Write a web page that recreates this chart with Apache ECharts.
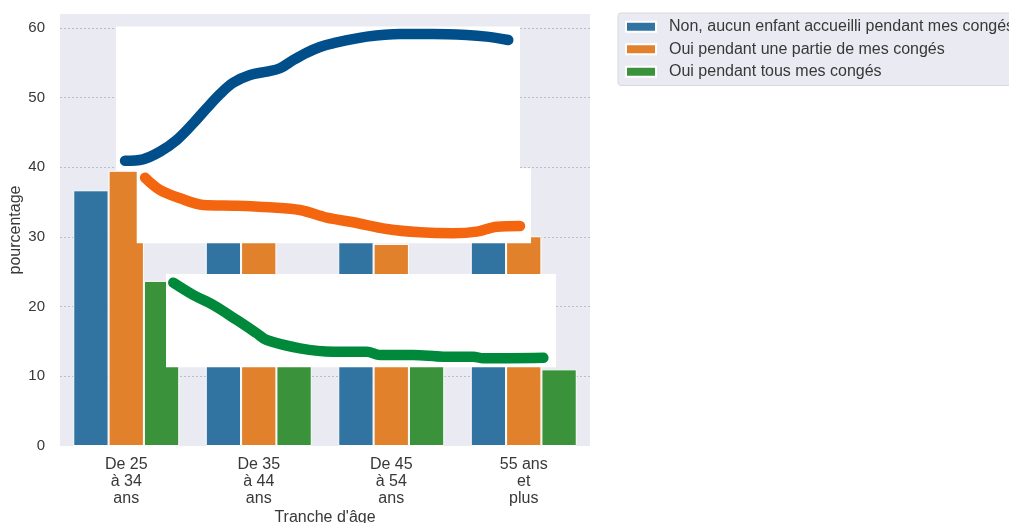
<!DOCTYPE html>
<html>
<head>
<meta charset="utf-8">
<script src="https://cdn.jsdelivr.net/npm/echarts@6/dist/echarts.min.js"></script>
<style>
html,body{margin:0;padding:0;background:#fff;}
#chart{width:1009px;height:523px;}
</style>
</head>
<body>
<div id="chart"></div>
<script>
// ---- data ----
const categories = ['De 25\nà 34\nans', 'De 35\nà 44\nans', 'De 45\nà 54\nans', '55 ans\net\nplus'];
const seriesNames = ['Non, aucun enfant accueilli pendant mes congés', 'Oui pendant une partie de mes congés', 'Oui pendant tous mes congés'];
const nonAucun = [36.7, 52.0, 58.0, 58.9];
const partie = [39.5, 33.0, 29.0, 30.1];
const tous = [23.7, 15.0, 13.0, 11.0];
const yTicks = [0, 10, 20, 30, 40, 50, 60];

// white masking rectangles, in data units: [x0, x1, y0, y1] (x: category index scale)
const maskRects = [
  [-0.077, 2.972, 39.5, 60.2],
  [0.079, 3.055, 29.09, 39.86],
  [0.300, 3.243, 11.3, 24.69]
];

// hand-drawn strokes, in data units [category position, percentage]
const strokeBlue = [[-0.009,40.95],[0.126,41.15],[0.255,42.24],[0.381,43.92],[0.506,46.32],[0.607,48.47],[0.708,50.52],[0.808,52.15],[0.934,53.25],[1.060,53.73],[1.160,54.21],[1.261,55.40],[1.362,56.45],[1.462,57.27],[1.560,57.80],[1.815,58.75],[2.066,59.14],[2.315,59.14],[2.569,58.99],[2.720,58.75],[2.883,58.27]];
const strokeOrange = [[0.142,38.51],[0.255,36.74],[0.406,35.55],[0.582,34.59],[0.834,34.49],[1.085,34.26],[1.311,33.87],[1.513,32.77],[1.714,32.11],[1.966,31.15],[2.217,30.67],[2.468,30.53],[2.645,30.76],[2.796,31.48],[2.972,31.58]];
const strokeGreen = [[0.355,23.44],[0.506,21.67],[0.657,20.24],[0.834,18.09],[0.985,16.18],[1.060,15.21],[1.311,14.02],[1.563,13.54],[1.815,13.54],[1.915,13.06],[2.166,13.06],[2.393,12.82],[2.619,12.82],[2.695,12.59],[3.148,12.67]];

// ---- chart ----
const textColor = '#383838';
const font = 'Liberation Sans, Arial, sans-serif';
const chart = echarts.init(document.getElementById('chart'), null, {renderer: 'canvas'});

function barSeries(name, data, color) {
  return {
    name: name, type: 'bar', data: data, xAxisIndex: 0, yAxisIndex: 0,
    barGap: '0%', barCategoryGap: '20%', z: 2,
    itemStyle: {color: color, borderColor: '#ffffff', borderWidth: 1},
    emphasis: {disabled: true}
  };
}
function strokeSeries(data, color) {
  return {
    type: 'line', data: data, xAxisIndex: 1, yAxisIndex: 0, z: 5,
    smooth: 0.35, symbol: 'none', silent: true,
    lineStyle: {color: color, width: 10.5, cap: 'round', join: 'round'}
  };
}

chart.setOption({
  animation: false,
  textStyle: {fontFamily: font},
  grid: {left: 60, right: 419, top: 14, bottom: 77, show: true, backgroundColor: '#EAEAF2', borderWidth: 0,
    containLabel: false, outerBoundsMode: 'none'},
  legend: {
    data: seriesNames,
    orient: 'vertical', left: 618, top: 13,
    padding: [5, 12, 5, 7],
    backgroundColor: '#EAEAF2', borderColor: '#d8d8de', borderWidth: 1, borderRadius: 3,
    icon: 'rect', itemWidth: 30, itemHeight: 10, itemGap: 5,
    textStyle: {color: textColor, fontSize: 16, fontFamily: font, lineHeight: 17.5, padding: [0, 0, 0, 8]}
  },
  xAxis: [
    {
      type: 'category', data: categories, gridIndex: 0,
      axisLine: {show: false}, axisTick: {show: false},
      axisLabel: {color: textColor, fontSize: 16, lineHeight: 17, margin: 10, interval: 0},
      name: "Tranche d'âge", nameLocation: 'middle', nameGap: 64, nameMoveOverlap: false,
      nameTextStyle: {color: textColor, fontSize: 16}
    },
    {
      type: 'value', gridIndex: 0, min: -0.5, max: 3.5, show: false
    }
  ],
  yAxis: {
    type: 'value', min: 0, max: 62, interval: 10,
    axisLine: {show: false}, axisTick: {show: false},
    axisLabel: {color: textColor, fontSize: 15, margin: 15,
      formatter: v => (yTicks.indexOf(v) >= 0 ? String(v) : '')},
    splitLine: {show: true, showMinLine: false, showMaxLine: false,
      lineStyle: {color: '#bdbdc5', width: 1, type: [2, 2]}},
    name: 'pourcentage', nameLocation: 'middle', nameGap: 36, nameRotate: 90, nameMoveOverlap: false,
    nameTextStyle: {color: textColor, fontSize: 16}
  },
  series: [
    barSeries(seriesNames[0], nonAucun, '#3274A1'),
    barSeries(seriesNames[1], partie, '#E1812C'),
    barSeries(seriesNames[2], tous, '#3A923A'),
    {
      type: 'custom', xAxisIndex: 1, yAxisIndex: 0, z: 4, silent: true,
      data: maskRects,
      encode: {x: [0, 1], y: [2, 3]},
      renderItem: function (params, api) {
        const p0 = api.coord([api.value(0), api.value(3)]);
        const p1 = api.coord([api.value(1), api.value(2)]);
        return {type: 'rect', shape: {x: p0[0], y: p0[1], width: p1[0] - p0[0], height: p1[1] - p0[1]},
          style: {fill: '#ffffff'}};
      }
    },
    strokeSeries(strokeBlue, '#004F8B'),
    strokeSeries(strokeOrange, '#F4650F'),
    strokeSeries(strokeGreen, '#00893A')
  ]
});
</script>
</body>
</html>
